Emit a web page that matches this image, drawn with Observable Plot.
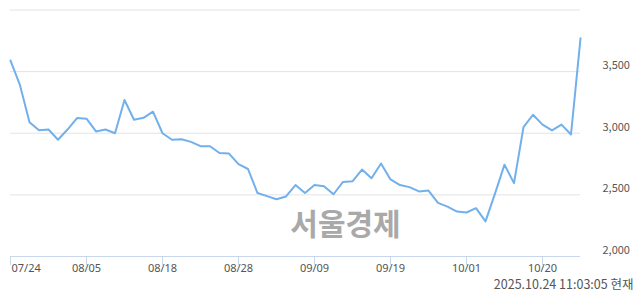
<!DOCTYPE html>
<html>
<head>
<meta charset="utf-8">
<script src="https://cdn.jsdelivr.net/npm/d3@7"></script>
<script src="https://cdn.jsdelivr.net/npm/@observablehq/plot@0.6"></script>
<style>
  html, body { margin: 0; padding: 0; background: #fff; }
  #chart svg { display: block; font-family: "Noto Sans CJK KR", "Noto Sans", sans-serif; }
</style>
</head>
<body>
<div id="chart"></div>
<script>
// closing prices, one per trading day (07/24 .. 10/24)
const prices = [
  3590, 3390, 3090, 3025, 3030, 2947, 3030, 3123, 3118, 3015,
  3030, 3000, 3270, 3110, 3125, 3175, 3000, 2947, 2952, 2930,
  2895, 2895, 2840, 2835, 2750, 2710, 2515, 2490, 2465, 2487,
  2580, 2515, 2580, 2570, 2505, 2605, 2610, 2705, 2635, 2755,
  2625, 2580, 2563, 2528, 2535, 2435, 2405, 2365, 2357, 2392,
  2285, 2510, 2745, 2595, 3050, 3150, 3070, 3023, 3070, 2990,
  3770
];
const tickIndex = [0, 8, 16, 24, 32, 40, 48, 56];
const tickLabels = ["07/24", "08/05", "08/18", "08/28", "09/09", "09/19", "10/01", "10/20"];
const yTicks = [2000, 2500, 3000, 3500];
const gridValues = [2500, 3000, 3500, 4000];
const watermark = "서울경제";
const stamp = "2025.10.24 11:03:05 현재";

const series = prices.map((v, i) => ({i, v}));
const xLabels = tickIndex.map((i, k) => ({i, label: tickLabels[k]}));

const chart = Plot.plot({
  width: 640,
  height: 294,
  marginLeft: 10,
  marginRight: 60,
  marginTop: 9.5,
  marginBottom: 38,
  style: {fontFamily: '"Noto Sans CJK KR", "Noto Sans", sans-serif', fontSize: "11px", color: "#555"},
  x: {domain: [0, prices.length - 1]},
  y: {domain: [2000, 4000], label: null},
  marks: [
    Plot.ruleY(gridValues, {stroke: "#e3e3e3", strokeWidth: 1}),
    Plot.ruleY([2000], {stroke: "#c8d7ec", strokeWidth: 1}),
    Plot.axisX({ticks: tickIndex, tickSize: 9, tickFormat: () => "", stroke: "#c8d7ec", strokeOpacity: 1, label: null}),
    Plot.text(xLabels.slice(0, 1), {x: "i", text: "label", frameAnchor: "bottom", textAnchor: "start", dx: 1, dy: 15.5, fill: "#555", fontSize: 11, fontFamily: '"Noto Sans", sans-serif'}),
    Plot.text(xLabels.slice(1), {x: "i", text: "label", frameAnchor: "bottom", textAnchor: "middle", dy: 15.5, fill: "#555", fontSize: 11, fontFamily: '"Noto Sans", sans-serif'}),
    Plot.axisY({ticks: yTicks, anchor: "right", tickSize: 0, tickPadding: 22, textAnchor: "start", dy: -6, tickFormat: d3.format(","), fill: "#555", fontSize: 11, label: null}),
    Plot.text([watermark], {frameAnchor: "bottom", dx: 50, dy: -22, fill: "#a9a9a9", fontSize: 30, fontWeight: "bold"}),
    Plot.lineY(series, {x: "i", y: "v", stroke: "#72b0ec", strokeWidth: 2, curve: "linear"}),
    Plot.text([stamp], {frameAnchor: "bottom-right", textAnchor: "end", dx: 53, dy: 32, fill: "#555", fontSize: 12.5})
  ]
});
document.getElementById("chart").append(chart);
</script>
</body>
</html>
